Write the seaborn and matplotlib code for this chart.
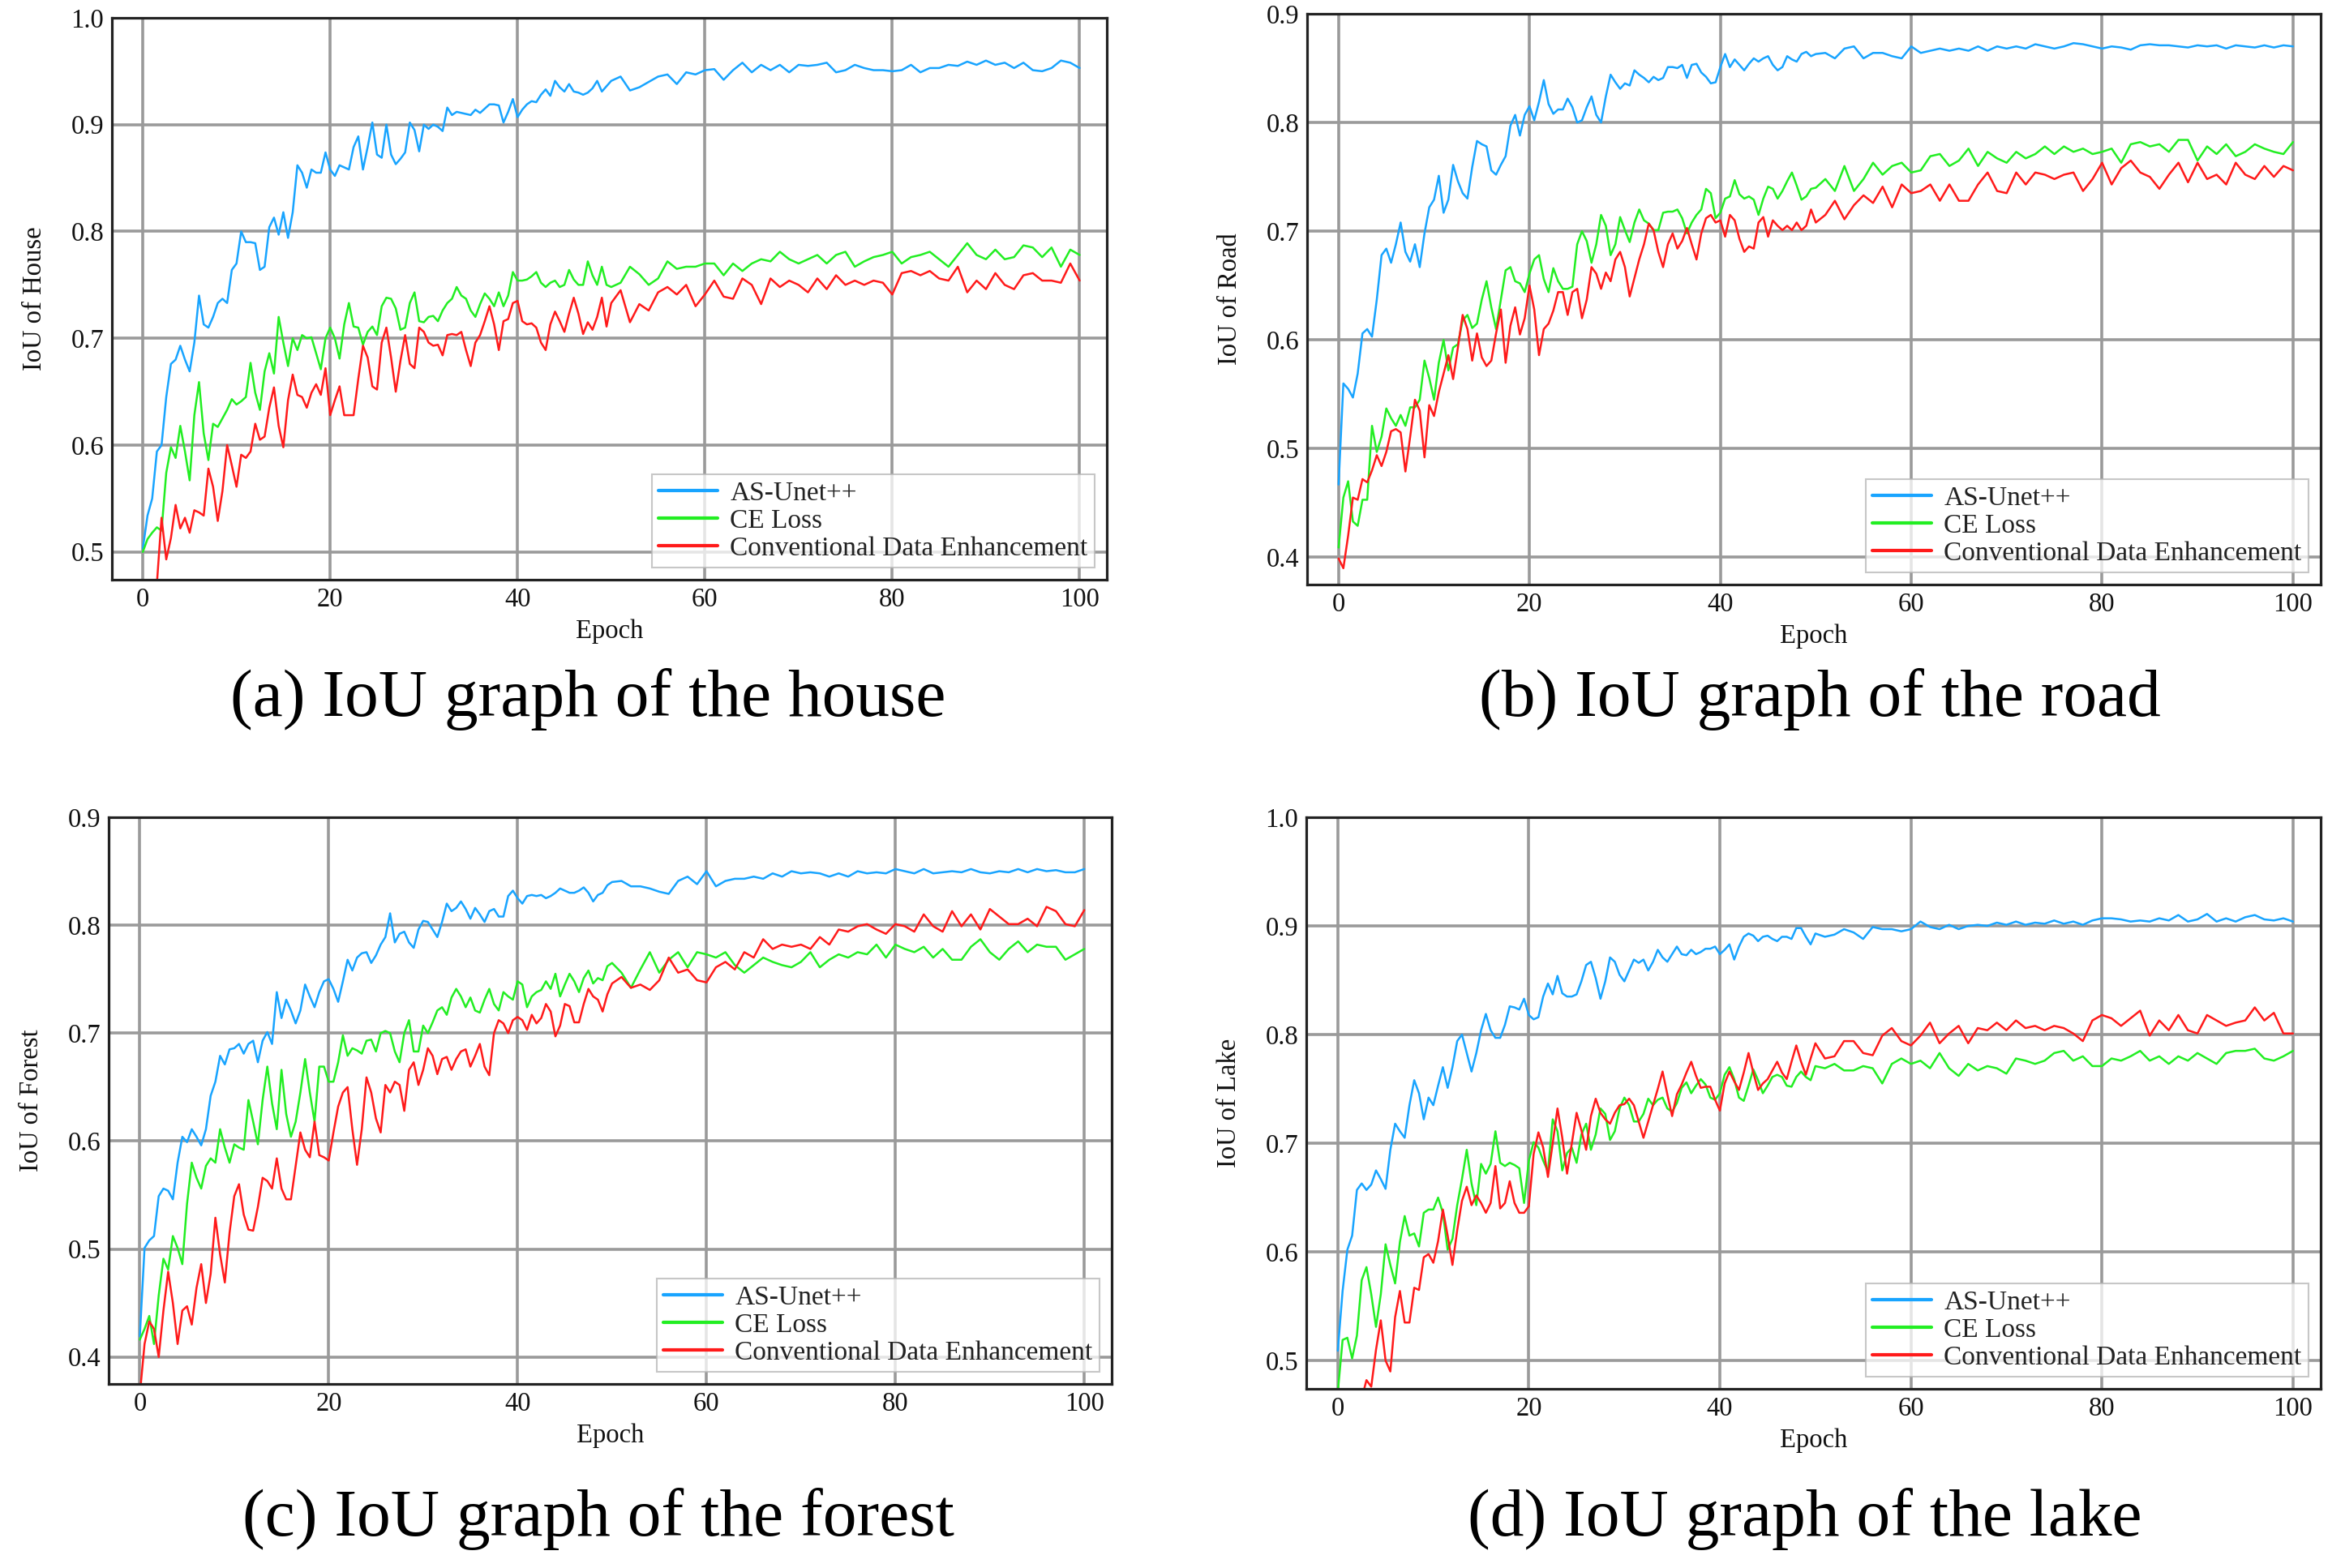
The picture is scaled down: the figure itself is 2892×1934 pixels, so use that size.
import numpy as np
import pandas as pd
import matplotlib
matplotlib.use("Agg")
import matplotlib.pyplot as plt
import seaborn as sns
from matplotlib.ticker import FormatStrFormatter

# ---------------- data ----------------
methods = ["AS-Unet++", "CE Loss", "Conventional Data Enhancement"]
colors = ["#18A4FF", "#22EE22", "#FF1A1A"]
x_ticks = [0, 20, 40, 60, 80, 100]
# epochs: half-epoch readings for 0-49.5, whole epochs for 50-100
epochs = list(np.arange(0, 50, 0.5)) + list(range(50, 101))

house_asunet = [
    0.503, 0.534, 0.550, 0.594, 0.600, 0.645, 0.676, 0.680, 0.693, 0.680,
    0.669, 0.696, 0.740, 0.713, 0.710, 0.720, 0.733, 0.737, 0.733, 0.764,
    0.770, 0.800, 0.790, 0.790, 0.789, 0.764, 0.767, 0.804, 0.813, 0.797,
    0.818, 0.794, 0.818, 0.862, 0.855, 0.841, 0.858, 0.855, 0.855, 0.874,
    0.858, 0.852, 0.862, 0.860, 0.858, 0.879, 0.889, 0.858, 0.879, 0.902,
    0.872, 0.869, 0.900, 0.872, 0.863, 0.868, 0.874, 0.902, 0.895, 0.875,
    0.900, 0.896, 0.900, 0.898, 0.894, 0.916, 0.909, 0.912, 0.911, 0.910,
    0.909, 0.914, 0.911, 0.915, 0.919, 0.919, 0.918, 0.902, 0.912, 0.924,
    0.907, 0.914, 0.919, 0.922, 0.921, 0.928, 0.933, 0.927, 0.941, 0.935,
    0.931, 0.938, 0.931, 0.930, 0.928, 0.930, 0.934, 0.941, 0.931, 0.936,
    0.941, 0.945, 0.932, 0.935, 0.940, 0.945, 0.947, 0.938, 0.949, 0.947,
    0.951, 0.952, 0.942, 0.951, 0.958, 0.949, 0.956, 0.951, 0.956, 0.949,
    0.956, 0.955, 0.956, 0.958, 0.949, 0.951, 0.956, 0.953, 0.951, 0.951,
    0.950, 0.951, 0.956, 0.949, 0.953, 0.953, 0.956, 0.955, 0.959, 0.956,
    0.960, 0.956, 0.958, 0.953, 0.958, 0.951, 0.950, 0.953, 0.960, 0.958,
    0.953]
house_celoss = [
    0.500, 0.512, 0.518, 0.523, 0.520, 0.574, 0.598, 0.588, 0.618, 0.594,
    0.567, 0.628, 0.659, 0.611, 0.586, 0.620, 0.617, 0.625, 0.633, 0.643,
    0.638, 0.641, 0.645, 0.677, 0.649, 0.633, 0.669, 0.686, 0.667, 0.720,
    0.696, 0.674, 0.700, 0.689, 0.703, 0.700, 0.701, 0.686, 0.671, 0.700,
    0.710, 0.700, 0.681, 0.713, 0.733, 0.711, 0.710, 0.694, 0.706, 0.711,
    0.703, 0.730, 0.738, 0.737, 0.728, 0.708, 0.710, 0.733, 0.743, 0.716,
    0.715, 0.720, 0.721, 0.716, 0.726, 0.733, 0.737, 0.748, 0.740, 0.737,
    0.726, 0.720, 0.732, 0.742, 0.737, 0.730, 0.743, 0.730, 0.740, 0.762,
    0.754, 0.754, 0.755, 0.758, 0.762, 0.752, 0.748, 0.752, 0.754, 0.748,
    0.750, 0.764, 0.755, 0.750, 0.750, 0.772, 0.759, 0.750, 0.767, 0.750,
    0.748, 0.752, 0.767, 0.760, 0.750, 0.756, 0.772, 0.765, 0.767, 0.767,
    0.770, 0.770, 0.759, 0.770, 0.763, 0.770, 0.774, 0.772, 0.781, 0.774,
    0.770, 0.774, 0.778, 0.770, 0.778, 0.781, 0.767, 0.772, 0.776, 0.778,
    0.781, 0.770, 0.776, 0.778, 0.781, 0.774, 0.767, 0.778, 0.789, 0.778,
    0.774, 0.783, 0.774, 0.776, 0.787, 0.785, 0.776, 0.785, 0.767, 0.783,
    0.778]
house_conv = [
    0.380, 0.400, 0.420, 0.470, 0.532, 0.493, 0.513, 0.544, 0.522, 0.532,
    0.518, 0.539, 0.537, 0.534, 0.578, 0.561, 0.529, 0.557, 0.600, 0.581,
    0.561, 0.591, 0.588, 0.594, 0.620, 0.605, 0.608, 0.635, 0.654, 0.618,
    0.598, 0.642, 0.666, 0.647, 0.645, 0.635, 0.649, 0.657, 0.647, 0.672,
    0.628, 0.642, 0.655, 0.628, 0.628, 0.628, 0.662, 0.693, 0.682, 0.655,
    0.652, 0.696, 0.710, 0.682, 0.650, 0.679, 0.703, 0.676, 0.672, 0.710,
    0.706, 0.696, 0.693, 0.694, 0.684, 0.703, 0.704, 0.703, 0.706, 0.689,
    0.674, 0.696, 0.703, 0.716, 0.730, 0.713, 0.689, 0.716, 0.718, 0.733,
    0.735, 0.716, 0.713, 0.714, 0.710, 0.696, 0.689, 0.713, 0.725, 0.716,
    0.706, 0.723, 0.738, 0.723, 0.704, 0.715, 0.708, 0.720, 0.738, 0.711,
    0.733, 0.745, 0.715, 0.732, 0.726, 0.743, 0.748, 0.741, 0.750, 0.730,
    0.741, 0.754, 0.739, 0.737, 0.756, 0.750, 0.732, 0.756, 0.748, 0.754,
    0.750, 0.743, 0.756, 0.746, 0.759, 0.750, 0.754, 0.750, 0.754, 0.752,
    0.741, 0.761, 0.763, 0.759, 0.763, 0.756, 0.754, 0.767, 0.743, 0.754,
    0.746, 0.761, 0.750, 0.746, 0.759, 0.761, 0.754, 0.754, 0.752, 0.770,
    0.754]

road_asunet = [
    0.467, 0.560, 0.555, 0.547, 0.569, 0.606, 0.610, 0.603, 0.637, 0.678,
    0.684, 0.671, 0.688, 0.708, 0.681, 0.672, 0.688, 0.667, 0.698, 0.722,
    0.729, 0.751, 0.717, 0.729, 0.761, 0.746, 0.735, 0.730, 0.759, 0.783,
    0.780, 0.778, 0.756, 0.752, 0.761, 0.769, 0.797, 0.807, 0.788, 0.807,
    0.815, 0.802, 0.819, 0.839, 0.817, 0.808, 0.812, 0.812, 0.822, 0.814,
    0.800, 0.802, 0.814, 0.824, 0.807, 0.800, 0.824, 0.844, 0.837, 0.831,
    0.836, 0.834, 0.848, 0.844, 0.841, 0.837, 0.842, 0.839, 0.841, 0.851,
    0.851, 0.850, 0.853, 0.841, 0.853, 0.854, 0.846, 0.842, 0.836, 0.837,
    0.851, 0.863, 0.851, 0.858, 0.853, 0.848, 0.854, 0.859, 0.856, 0.859,
    0.861, 0.853, 0.848, 0.851, 0.861, 0.858, 0.856, 0.863, 0.865, 0.861,
    0.863, 0.864, 0.859, 0.868, 0.870, 0.859, 0.864, 0.864, 0.861, 0.859,
    0.870, 0.864, 0.866, 0.868, 0.866, 0.868, 0.866, 0.870, 0.866, 0.870,
    0.868, 0.870, 0.868, 0.872, 0.870, 0.868, 0.870, 0.873, 0.872, 0.870,
    0.868, 0.870, 0.869, 0.867, 0.871, 0.872, 0.871, 0.871, 0.870, 0.869,
    0.871, 0.870, 0.871, 0.868, 0.871, 0.870, 0.869, 0.871, 0.869, 0.871,
    0.870]
road_celoss = [
    0.409, 0.455, 0.470, 0.433, 0.429, 0.453, 0.453, 0.521, 0.497, 0.511,
    0.537, 0.528, 0.521, 0.531, 0.521, 0.538, 0.538, 0.545, 0.581, 0.565,
    0.545, 0.579, 0.600, 0.572, 0.593, 0.596, 0.618, 0.623, 0.611, 0.615,
    0.637, 0.654, 0.630, 0.610, 0.637, 0.664, 0.667, 0.654, 0.652, 0.644,
    0.661, 0.674, 0.678, 0.656, 0.644, 0.666, 0.654, 0.647, 0.647, 0.649,
    0.688, 0.700, 0.691, 0.671, 0.688, 0.715, 0.705, 0.678, 0.688, 0.713,
    0.701, 0.690, 0.708, 0.720, 0.710, 0.707, 0.701, 0.701, 0.717, 0.718,
    0.718, 0.720, 0.712, 0.698, 0.708, 0.715, 0.720, 0.739, 0.735, 0.712,
    0.717, 0.730, 0.732, 0.747, 0.734, 0.730, 0.732, 0.729, 0.715, 0.730,
    0.741, 0.739, 0.730, 0.737, 0.746, 0.754, 0.742, 0.729, 0.732, 0.739,
    0.740, 0.748, 0.737, 0.760, 0.737, 0.748, 0.763, 0.752, 0.760, 0.763,
    0.754, 0.756, 0.769, 0.771, 0.760, 0.765, 0.776, 0.760, 0.773, 0.767,
    0.763, 0.773, 0.767, 0.771, 0.778, 0.771, 0.778, 0.773, 0.776, 0.771,
    0.773, 0.776, 0.763, 0.780, 0.782, 0.778, 0.780, 0.773, 0.784, 0.784,
    0.765, 0.778, 0.771, 0.780, 0.769, 0.773, 0.780, 0.776, 0.773, 0.771,
    0.782]
road_conv = [
    0.399, 0.390, 0.420, 0.455, 0.453, 0.472, 0.469, 0.480, 0.494, 0.484,
    0.497, 0.516, 0.518, 0.515, 0.479, 0.511, 0.545, 0.535, 0.492, 0.540,
    0.530, 0.552, 0.569, 0.586, 0.564, 0.593, 0.623, 0.610, 0.581, 0.606,
    0.584, 0.576, 0.581, 0.606, 0.628, 0.579, 0.613, 0.630, 0.605, 0.620,
    0.650, 0.628, 0.586, 0.610, 0.615, 0.627, 0.644, 0.644, 0.623, 0.644,
    0.647, 0.620, 0.637, 0.667, 0.661, 0.647, 0.662, 0.654, 0.674, 0.681,
    0.667, 0.640, 0.657, 0.674, 0.688, 0.707, 0.701, 0.681, 0.667, 0.688,
    0.698, 0.684, 0.691, 0.703, 0.688, 0.674, 0.698, 0.712, 0.715, 0.708,
    0.710, 0.695, 0.715, 0.710, 0.693, 0.681, 0.686, 0.684, 0.708, 0.713,
    0.695, 0.710, 0.705, 0.701, 0.705, 0.701, 0.708, 0.701, 0.705, 0.720,
    0.708, 0.715, 0.728, 0.711, 0.724, 0.733, 0.726, 0.741, 0.722, 0.743,
    0.735, 0.737, 0.743, 0.728, 0.743, 0.728, 0.728, 0.743, 0.754, 0.737,
    0.735, 0.754, 0.743, 0.754, 0.752, 0.748, 0.752, 0.754, 0.737, 0.748,
    0.763, 0.743, 0.758, 0.765, 0.754, 0.750, 0.739, 0.752, 0.763, 0.745,
    0.763, 0.748, 0.752, 0.743, 0.763, 0.752, 0.748, 0.760, 0.750, 0.760,
    0.756]

forest_asunet = [
    0.419, 0.501, 0.508, 0.512, 0.549, 0.556, 0.554, 0.546, 0.580, 0.604,
    0.599, 0.611, 0.604, 0.596, 0.611, 0.642, 0.655, 0.679, 0.671, 0.685,
    0.686, 0.690, 0.681, 0.690, 0.693, 0.673, 0.693, 0.701, 0.690, 0.738,
    0.714, 0.731, 0.721, 0.709, 0.721, 0.745, 0.734, 0.724, 0.738, 0.748,
    0.750, 0.741, 0.729, 0.748, 0.768, 0.758, 0.770, 0.774, 0.775, 0.765,
    0.772, 0.782, 0.789, 0.811, 0.784, 0.792, 0.794, 0.784, 0.779, 0.796,
    0.804, 0.803, 0.796, 0.789, 0.803, 0.820, 0.813, 0.816, 0.822, 0.815,
    0.806, 0.816, 0.810, 0.803, 0.813, 0.815, 0.808, 0.808, 0.827, 0.832,
    0.825, 0.820, 0.827, 0.828, 0.827, 0.828, 0.825, 0.827, 0.830, 0.834,
    0.832, 0.830, 0.830, 0.832, 0.835, 0.830, 0.822, 0.828, 0.830, 0.837,
    0.840, 0.841, 0.836, 0.836, 0.834, 0.831, 0.829, 0.841, 0.845, 0.838,
    0.850, 0.836, 0.841, 0.843, 0.843, 0.845, 0.843, 0.848, 0.845, 0.850,
    0.848, 0.849, 0.848, 0.845, 0.848, 0.845, 0.850, 0.848, 0.849, 0.848,
    0.852, 0.850, 0.848, 0.852, 0.848, 0.849, 0.850, 0.849, 0.852, 0.849,
    0.848, 0.850, 0.849, 0.852, 0.849, 0.852, 0.850, 0.851, 0.849, 0.849,
    0.852]
forest_celoss = [
    0.416, 0.426, 0.438, 0.412, 0.457, 0.491, 0.481, 0.512, 0.501, 0.486,
    0.542, 0.580, 0.566, 0.556, 0.577, 0.584, 0.580, 0.611, 0.594, 0.580,
    0.597, 0.594, 0.592, 0.638, 0.618, 0.597, 0.638, 0.669, 0.635, 0.611,
    0.666, 0.625, 0.604, 0.618, 0.645, 0.676, 0.645, 0.618, 0.669, 0.669,
    0.655, 0.655, 0.673, 0.698, 0.679, 0.686, 0.684, 0.681, 0.693, 0.694,
    0.683, 0.700, 0.702, 0.700, 0.683, 0.673, 0.700, 0.712, 0.683, 0.683,
    0.707, 0.700, 0.710, 0.721, 0.724, 0.717, 0.733, 0.741, 0.734, 0.724,
    0.733, 0.721, 0.719, 0.731, 0.741, 0.727, 0.721, 0.738, 0.734, 0.731,
    0.748, 0.745, 0.724, 0.734, 0.738, 0.740, 0.748, 0.741, 0.755, 0.734,
    0.745, 0.755, 0.748, 0.738, 0.751, 0.758, 0.746, 0.751, 0.749, 0.762,
    0.765, 0.756, 0.742, 0.759, 0.775, 0.756, 0.768, 0.775, 0.761, 0.775,
    0.773, 0.770, 0.775, 0.763, 0.756, 0.763, 0.770, 0.766, 0.763, 0.761,
    0.766, 0.775, 0.761, 0.768, 0.773, 0.770, 0.775, 0.773, 0.782, 0.770,
    0.782, 0.778, 0.775, 0.780, 0.770, 0.778, 0.768, 0.768, 0.780, 0.787,
    0.775, 0.768, 0.778, 0.785, 0.775, 0.782, 0.780, 0.780, 0.768, 0.773,
    0.778]
forest_conv = [
    0.365, 0.412, 0.433, 0.426, 0.400, 0.443, 0.479, 0.450, 0.412, 0.443,
    0.447, 0.430, 0.464, 0.486, 0.450, 0.477, 0.529, 0.495, 0.469, 0.515,
    0.549, 0.560, 0.532, 0.518, 0.517, 0.539, 0.566, 0.563, 0.556, 0.584,
    0.556, 0.546, 0.546, 0.577, 0.608, 0.592, 0.585, 0.618, 0.587, 0.585,
    0.582, 0.608, 0.632, 0.645, 0.650, 0.611, 0.578, 0.611, 0.659, 0.645,
    0.621, 0.608, 0.652, 0.645, 0.655, 0.652, 0.628, 0.666, 0.673, 0.652,
    0.666, 0.686, 0.679, 0.662, 0.676, 0.678, 0.666, 0.676, 0.683, 0.685,
    0.669, 0.679, 0.690, 0.669, 0.661, 0.700, 0.712, 0.709, 0.700, 0.712,
    0.715, 0.712, 0.703, 0.717, 0.709, 0.714, 0.727, 0.720, 0.697, 0.707,
    0.727, 0.725, 0.710, 0.710, 0.727, 0.741, 0.734, 0.731, 0.720, 0.736,
    0.746, 0.752, 0.742, 0.745, 0.740, 0.749, 0.770, 0.756, 0.759, 0.749,
    0.747, 0.761, 0.766, 0.759, 0.775, 0.770, 0.787, 0.778, 0.782, 0.780,
    0.782, 0.778, 0.789, 0.782, 0.796, 0.794, 0.799, 0.801, 0.796, 0.792,
    0.801, 0.799, 0.794, 0.810, 0.799, 0.794, 0.813, 0.799, 0.810, 0.796,
    0.815, 0.808, 0.801, 0.801, 0.806, 0.799, 0.817, 0.813, 0.801, 0.799,
    0.814]

lake_asunet = [
    0.509, 0.564, 0.602, 0.615, 0.657, 0.663, 0.657, 0.662, 0.675, 0.667,
    0.658, 0.694, 0.718, 0.711, 0.705, 0.735, 0.758, 0.746, 0.722, 0.742,
    0.735, 0.753, 0.770, 0.751, 0.770, 0.794, 0.800, 0.783, 0.766, 0.783,
    0.804, 0.819, 0.804, 0.797, 0.797, 0.809, 0.826, 0.825, 0.823, 0.833,
    0.818, 0.814, 0.816, 0.835, 0.847, 0.837, 0.854, 0.838, 0.835, 0.835,
    0.837, 0.849, 0.864, 0.867, 0.852, 0.833, 0.849, 0.871, 0.867, 0.855,
    0.849, 0.859, 0.869, 0.866, 0.869, 0.859, 0.867, 0.878, 0.871, 0.867,
    0.874, 0.881, 0.874, 0.873, 0.878, 0.874, 0.876, 0.879, 0.879, 0.881,
    0.874, 0.878, 0.883, 0.869, 0.881, 0.890, 0.893, 0.891, 0.886, 0.890,
    0.891, 0.888, 0.886, 0.890, 0.890, 0.888, 0.898, 0.898, 0.890, 0.883,
    0.893, 0.890, 0.892, 0.897, 0.894, 0.888, 0.899, 0.897, 0.897, 0.895,
    0.897, 0.904, 0.899, 0.897, 0.901, 0.897, 0.900, 0.901, 0.900, 0.903,
    0.901, 0.904, 0.901, 0.903, 0.902, 0.905, 0.902, 0.904, 0.901, 0.905,
    0.907, 0.907, 0.906, 0.904, 0.905, 0.904, 0.907, 0.905, 0.910, 0.904,
    0.906, 0.911, 0.904, 0.907, 0.904, 0.908, 0.910, 0.906, 0.905, 0.907,
    0.904]
lake_celoss = [
    0.471, 0.519, 0.521, 0.502, 0.523, 0.574, 0.586, 0.561, 0.531, 0.561,
    0.607, 0.588, 0.571, 0.609, 0.633, 0.615, 0.617, 0.605, 0.636, 0.639,
    0.639, 0.650, 0.636, 0.602, 0.612, 0.643, 0.667, 0.694, 0.663, 0.643,
    0.681, 0.672, 0.681, 0.711, 0.682, 0.679, 0.682, 0.680, 0.677, 0.645,
    0.684, 0.701, 0.696, 0.684, 0.674, 0.722, 0.711, 0.675, 0.691, 0.696,
    0.682, 0.708, 0.718, 0.694, 0.708, 0.732, 0.727, 0.703, 0.711, 0.732,
    0.742, 0.735, 0.720, 0.720, 0.727, 0.741, 0.735, 0.740, 0.742, 0.732,
    0.729, 0.737, 0.751, 0.756, 0.746, 0.753, 0.759, 0.754, 0.742, 0.740,
    0.746, 0.763, 0.770, 0.759, 0.742, 0.739, 0.753, 0.768, 0.758, 0.746,
    0.753, 0.761, 0.763, 0.761, 0.753, 0.752, 0.761, 0.766, 0.761, 0.758,
    0.771, 0.769, 0.773, 0.767, 0.767, 0.771, 0.769, 0.755, 0.773, 0.778,
    0.773, 0.776, 0.769, 0.783, 0.769, 0.762, 0.773, 0.767, 0.771, 0.769,
    0.764, 0.778, 0.776, 0.773, 0.776, 0.783, 0.785, 0.776, 0.780, 0.771,
    0.771, 0.778, 0.776, 0.780, 0.785, 0.776, 0.780, 0.773, 0.780, 0.776,
    0.783, 0.778, 0.773, 0.783, 0.785, 0.785, 0.787, 0.778, 0.776, 0.780,
    0.785]
lake_conv = [
    0.420, 0.430, 0.440, 0.450, 0.460, 0.465, 0.482, 0.476, 0.510, 0.537,
    0.500, 0.490, 0.540, 0.564, 0.535, 0.535, 0.567, 0.565, 0.595, 0.598,
    0.590, 0.610, 0.639, 0.615, 0.588, 0.620, 0.647, 0.660, 0.643, 0.652,
    0.645, 0.636, 0.645, 0.679, 0.640, 0.645, 0.665, 0.645, 0.636, 0.636,
    0.642, 0.690, 0.710, 0.696, 0.669, 0.700, 0.732, 0.705, 0.672, 0.700,
    0.728, 0.712, 0.694, 0.725, 0.741, 0.728, 0.722, 0.718, 0.728, 0.735,
    0.736, 0.741, 0.735, 0.720, 0.705, 0.720, 0.735, 0.750, 0.766, 0.745,
    0.725, 0.745, 0.754, 0.765, 0.775, 0.762, 0.751, 0.752, 0.752, 0.740,
    0.730, 0.755, 0.766, 0.757, 0.749, 0.765, 0.783, 0.765, 0.749, 0.755,
    0.759, 0.767, 0.775, 0.765, 0.759, 0.775, 0.790, 0.775, 0.763, 0.778,
    0.792, 0.778, 0.780, 0.794, 0.794, 0.783, 0.781, 0.799, 0.806, 0.794,
    0.790, 0.799, 0.811, 0.792, 0.801, 0.808, 0.792, 0.806, 0.804, 0.811,
    0.804, 0.813, 0.806, 0.808, 0.804, 0.808, 0.806, 0.801, 0.794, 0.813,
    0.818, 0.815, 0.808, 0.815, 0.822, 0.799, 0.813, 0.804, 0.818, 0.804,
    0.801, 0.818, 0.813, 0.808, 0.811, 0.813, 0.825, 0.813, 0.820, 0.801,
    0.801]

panels = [
    ("IoU of House", "(a) IoU graph of the house", (0.474, 1.0), [0.5, 0.6, 0.7, 0.8, 0.9, 1.0],
     [house_asunet, house_celoss, house_conv]),
    ("IoU of Road", "(b) IoU graph of the road", (0.375, 0.9), [0.4, 0.5, 0.6, 0.7, 0.8, 0.9],
     [road_asunet, road_celoss, road_conv]),
    ("IoU of Forest", "(c) IoU graph of the forest", (0.375, 0.9), [0.4, 0.5, 0.6, 0.7, 0.8, 0.9],
     [forest_asunet, forest_celoss, forest_conv]),
    ("IoU of Lake", "(d) IoU graph of the lake", (0.474, 1.0), [0.5, 0.6, 0.7, 0.8, 0.9, 1.0],
     [lake_asunet, lake_celoss, lake_conv]),
]

# ---------------- layout / style ----------------
sns.set_theme(style="white")
plt.rcParams["font.family"] = ["Liberation Serif", "DejaVu Serif"]

W, H = 2892, 1934
fig = plt.figure(figsize=(W / 100, H / 100), dpi=100)
fig.patch.set_facecolor("white")

# axes boxes in pixels: left, top, right, bottom
boxes = [(138, 22, 1365, 715), (1612, 17, 2862, 721),
         (134, 1008, 1371, 1707), (1611, 1008, 2862, 1713)]
caption_pos = [(725, 863), (2244, 863), (738, 1874), (2226, 1874)]

for (ylabel, caption, ylim, yticks, series), (l, t, r, b), (cx, cy) in zip(panels, boxes, caption_pos):
    ax = fig.add_axes([l / W, 1 - b / H, (r - l) / W, (b - t) / H])
    df = pd.DataFrame({
        "Epoch": np.tile(epochs, 3),
        "IoU": np.concatenate([np.array(s) for s in series]),
        "Method": np.repeat(methods, len(epochs)),
    })
    sns.lineplot(data=df, x="Epoch", y="IoU", hue="Method", hue_order=methods,
                 palette=colors, linewidth=1.8, estimator=None, sort=False, ax=ax)
    ax.set_xlim(-3.3, 102.9)
    ax.set_ylim(*ylim)
    ax.set_xticks(x_ticks)
    ax.set_yticks(yticks)
    ax.yaxis.set_major_formatter(FormatStrFormatter("%.1f"))
    ax.grid(True, color="#9a9a9a", linewidth=2.6)
    ax.set_axisbelow(True)
    ax.tick_params(axis="both", length=0, labelsize=23.5, pad=7, colors="#111111")
    for sp in ax.spines.values():
        sp.set_visible(True)
        sp.set_color("#222222")
        sp.set_linewidth(2.3)
    ax.set_xlabel("Epoch", fontsize=23.5, labelpad=6, color="#111111")
    ax.set_ylabel(ylabel, fontsize=23.5, labelpad=21, color="#111111")
    handles, labels = ax.get_legend_handles_labels()
    leg = ax.legend(handles, labels, loc="lower right", fontsize=24, frameon=True,
                    fancybox=False, edgecolor="#b5b5b5", framealpha=0.75,
                    borderpad=0.25, labelspacing=0.1, handlelength=2.2,
                    handletextpad=0.45, borderaxespad=0.45)
    leg.get_frame().set_linewidth(1.5)
    for txt in leg.get_texts():
        txt.set_color("#222222")
    for ln in leg.get_lines():
        ln.set_linewidth(3.0)
    fig.text(cx / W, 1 - cy / H, caption, ha="center", va="center",
             fontsize=60, color="#000000")

fig.savefig("out.png", dpi=100, facecolor="white")
